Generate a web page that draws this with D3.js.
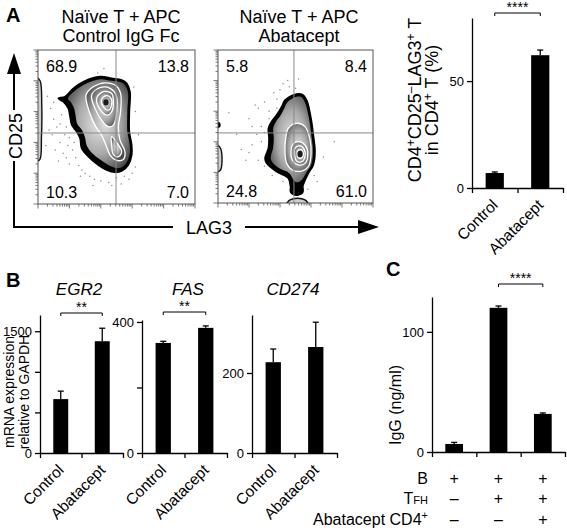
<!DOCTYPE html>
<html><head><meta charset="utf-8">
<script src="https://cdn.jsdelivr.net/npm/d3@7/dist/d3.min.js"></script>
<style>
body{margin:0;background:#fff;}
svg{display:block;}
text{font-family:"Liberation Sans",Arial,Helvetica,sans-serif;fill:#000;}
</style></head><body>
<svg id="chart" width="567" height="530"></svg>
<script>
// ================= DATA =================
// Panel A – flow cytometry (LAG3 vs CD25), coordinates in % of axis range
const flowTitle1 = ["Naïve T + APC", "Control IgG Fc"];
const flowTitle2 = ["Naïve T + APC", "Abatacept"];
const flowXLabel = "LAG3";
const flowYLabel = "CD25";
const flow1Quadrants = ["68.9", "13.8", "10.3", "7.0"];   // UL, UR, LL, LR
const flow2Quadrants = ["5.8", "8.4", "24.8", "61.0"];
const flow1Gate = [49.7, 46.1];
const flow2Gate = [49.0, 45.8];

const flow1Outer = [[12.9,68.6],[17.2,69.7],[22.5,75.1],[28.9,79.4],[39.5,82.7],[46.9,81.6],[53.3,80.5],[56.5,78.4],[58.6,72.9],[58.2,59.9],[58.2,47],[59.7,38.3],[59.7,31.8],[57.5,25.3],[53.3,21.4],[49,20.6],[43.7,22.1],[38.4,25.3],[32.1,30.7],[27.8,36.1],[26.8,42.6],[24.6,47],[21.5,51.3],[20.4,56.7],[19.3,62.1],[16.1,66.4]];
const flow1Level1 = [[19,68.5],[23.5,73.5],[29.5,77.6],[39.5,81],[46.9,80],[53,79],[55.5,77],[57.3,72.5],[56.9,59.9],[56.9,47],[58.4,38.3],[58.3,32],[56.2,26.5],[52.5,23.5],[49,23.5],[44.5,25.5],[40,28.5],[34.5,33],[31,38],[30,43],[28,48],[25,52],[24,57],[23,62],[21,66]];
const flow1Contour2 = [[30.6,70.7],[35.2,76.1],[42.7,78.7],[49.7,76.8],[52.6,71.8],[52.6,59.9],[51.2,50.2],[52.2,41.5],[55.4,33.9],[54.3,28.9],[49.7,28.5],[45.9,31.8],[43.3,38.2],[40.5,44.7],[36.3,51.2],[32.7,59.9]];
const flow1Contour3 = [[34.2,70.7],[39.5,75.5],[45.9,75.1],[49.7,70.7],[50.1,59.9],[48,51.2],[44.8,50.2],[40.5,54.5],[36.3,62.1]];
const flow1Contour4 = [[37.4,68.6],[41.6,72.9],[46.9,71.8],[48,65.3],[46.9,59.9],[44.2,57.7],[39.9,61]];
const flow1Contour5 = [[40.5,67.5],[43.3,70.3],[46.5,68.6],[46.9,64.2],[44.8,61],[41.6,63.2]];
const flow1Lobe = [[46.9,43.7],[50.5,39.3],[53.3,33.9],[51.2,30.7],[48,32.2],[46.9,38.2]];
const flow1Core = [43.3, 66];
const flow1Edge = [[-1,82],[1.3,80],[2.4,64],[2.2,43],[1.2,29],[-1,28]];
const flow1Dots = [[8,62],[10,55],[12,50],[9,45],[14,40],[11,35],[16,33],[13,28],[18,30],[20,26],[7,48],[15,58],[17,45],[19,38],[22,35],[24,30],[26,25],[28,22],[30,20],[33,18],[36,16],[40,15],[45,14],[50,17],[55,18],[60,20],[62,24],[38,85],[42,88],[61,76],[62,60],[6,70],[10,66],[5,38],[23,40],[18,50],[47,12],[53,13],[58,16],[20,43],[14,52],[64,45],[35,12],[27,18]];

const flow2Outer = [[43.2,67.3],[48.6,70.6],[54,71.1],[57.2,67.3],[60,55.4],[61.5,44.5],[62.6,33.6],[61.5,24.9],[58.3,19.4],[55,12],[54,8],[51.5,5.5],[48.5,6],[47,9.5],[45.4,16.1],[37.8,20.5],[31.4,25.9],[30.3,29.2],[32.5,35.8],[32.9,42.3],[32.5,48.8],[34.6,53.2],[37.8,57.5],[41.1,63]];
const flow2Level1 = [[44.5,65.5],[48.8,68.8],[53.7,69.3],[56,66],[58.7,55.4],[60.2,44.5],[61.3,33.6],[60.2,25.2],[57,20],[53.5,14.5],[50.5,13.5],[48.5,15.5],[46,19.5],[39,23],[34.5,27.5],[34,30],[35.5,36],[36,42.3],[35.6,48.8],[37.3,53],[40.2,57],[42.8,62]];
const flow2Contour2 = [[45.4,48.8],[50.8,52.1],[56.1,49.9],[59.4,41.2],[60,31.4],[58.3,23.8],[54,20.9],[48,21.6],[44.3,25.9],[43.2,33.6],[43.7,42.3]];
const flow2Contour3 = [[48,37.9],[51.8,40.1],[56.1,37.9],[57.9,31.4],[56.1,25.9],[51.8,24.9],[48,28.1],[47.1,33.6]];
const flow2Contour4 = [[49.7,35.8],[52.9,37.3],[55.7,34.7],[56.1,30.3],[54,27],[50.8,27.5],[49.3,31.4]];
const flow2Contour5 = [[51.4,34],[54,34.7],[55.1,31.4],[53.6,29.2],[51.8,29.9]];
const flow2Core = [52.9, 32];
const flow2Edge = [[-1,38],[1.6,35.8],[2.6,29.2],[1.6,21.6],[-1,20.5]];
const flow2EdgeBlob = [[-1,53],[1.4,52.3],[1.4,49.6],[-1,49]];
const flow2BottomBlob = [[46.6,10.5],[50.8,12.6],[55,10.5],[55,6.5],[50.8,4.6],[46.6,6.5]];
const flow2Dome = [[44.3,-1],[46.5,2],[51.4,3.1],[56.1,2],[58.3,-1]];
const flow2Dots = [[7,59],[24,64],[26,62],[30,66],[33,60],[36,72],[40,74],[42,78],[46,76],[50,75],[52,81],[28,50],[25,45],[22,38],[20,33],[26,28],[30,24],[18,28],[15,35],[30,46],[33,55],[38,68],[42,14],[35,18],[58,9],[62,18],[75,40],[68,30],[20,55],[12,45],[28,40],[22,50],[64,14],[45,80],[38,62]];

// Panel A – bar chart
const barACategories = ["Control", "Abatacept"];
const barAValues = [7.0, 62.1];
const barAErrors = [0.5, 2.4];
const barATicks = [0, 50];
const barATickLabels = [0, 50];
const barAYMax = 79.5;
const barAStars = "****";

// Panel B – mRNA expression
const bCategories = ["Control", "Abatacept"];
const geneNames = ["EGR2", "FAS", "CD274"];
const egr2Values = [664, 1377];
const egr2Errors = [98, 160];
const fasValues = [336, 382];
const fasErrors = [5, 6];
const cd274Values = [227, 265];
const cd274Errors = [33, 62];
const egr2Ticks = [0, 500, 1000, 1500];
const egr2TickLabels = [0, 1500];
const fasTicks = [0, 200, 400];
const fasTickLabels = [0, 400];
const cd274Ticks = [0, 200];
const cd274TickLabels = [0, 200];
const egr2YMax = 1700, fasYMax = 406, cd274YMax = 345;
const bStars = ["**", "**", null];

// Panel C – IgG
const cGroups = ["g1", "g2", "g3"];
const cValues = [6.7, 120, 31.7];
const cErrors = [1.3, 1.5, 0.8];
const cTicks = [0, 100];
const cTickLabels = [0, 100];
const cYMax = 129;
const cStars = "****";
const cRowB = ["+", "+", "+"];
const cRowTFH = ["–", "+", "+"];
const cRowAba = ["–", "–", "+"];

// ================= DRAWING =================
const svg = d3.select("#chart");
const defs = svg.append("defs");
const grad = defs.append("radialGradient").attr("id", "zebra").attr("cx", "50%").attr("cy", "50%").attr("r", "62%");
grad.append("stop").attr("offset", "0%").attr("stop-color", "#e4e4e4");
grad.append("stop").attr("offset", "55%").attr("stop-color", "#a9a9a9");
grad.append("stop").attr("offset", "100%").attr("stop-color", "#484848");

let clipN = 0;
function flowPlot(box, s) {
  const id = "clip" + (clipN++);
  defs.append("clipPath").attr("id", id).append("rect")
    .attr("x", box.l).attr("y", box.t).attr("width", box.r - box.l).attr("height", box.b - box.t);
  const outerG = svg.append("g");
  const g = outerG.append("g").attr("clip-path", `url(#${id})`);
  const x = d3.scaleLinear().domain([0, 100]).range([box.l, box.r]);
  const y = d3.scaleLinear().domain([0, 100]).range([box.b, box.t]);
  const closed = d3.line().x(d => x(d[0])).y(d => y(d[1])).curve(d3.curveCatmullRomClosed.alpha(0.5));
  g.selectAll("circle.dot").data(s.dots).join("circle").attr("class", "dot")
    .attr("cx", d => x(d[0])).attr("cy", d => y(d[1])).attr("r", 0.75).attr("fill", "#8c8c8c");
  s.edges.forEach(e => g.append("path").attr("d", closed(e)).attr("fill", "#cfcfcf").attr("stroke", "#111").attr("stroke-width", 1.4));
  g.append("path").attr("d", closed(s.outer)).attr("fill", "#000").attr("stroke", "#000").attr("stroke-width", 1.6);
  (s.blobs || []).forEach(e => g.append("path").attr("d", closed(e)).attr("fill", "#000"));
  g.append("path").attr("d", closed(s.level1)).attr("fill", "url(#zebra)");
  s.levels.forEach(l => g.append("path").attr("d", closed(l)).attr("fill", "url(#zebra)").attr("stroke", "#fff").attr("stroke-width", 1.3));
  g.append("ellipse").attr("cx", x(s.core[0])).attr("cy", y(s.core[1])).attr("rx", 2.6).attr("ry", 3.2).attr("fill", "#1c1c1c");
  // gates
  g.append("line").attr("x1", x(s.gate[0])).attr("x2", x(s.gate[0])).attr("y1", box.t).attr("y2", box.b).attr("stroke", "#8a8a8a").attr("stroke-width", 1);
  g.append("line").attr("x1", box.l).attr("x2", box.r).attr("y1", y(s.gate[1])).attr("y2", y(s.gate[1])).attr("stroke", "#8a8a8a").attr("stroke-width", 1);
  outerG.append("rect").attr("x", box.l).attr("y", box.t).attr("width", box.r - box.l).attr("height", box.b - box.t)
    .attr("fill", "none").attr("stroke", "#555").attr("stroke-width", 1);
  // log ticks
  const lx = d3.scaleLog().domain([1, 1e5]).range([box.l, box.r]);
  const ly = d3.scaleLog().domain([1, 1e5]).range([box.b, box.t]);
  const isMajor = v => Math.abs(Math.log10(v) - Math.round(Math.log10(v))) < 1e-9;
  outerG.selectAll("line.xt").data(lx.ticks()).join("line").attr("class", "xt")
    .attr("x1", d => lx(d)).attr("x2", d => lx(d)).attr("y1", box.b).attr("y2", d => box.b + (isMajor(d) ? 4.5 : 2.5))
    .attr("stroke", "#555").attr("stroke-width", 0.8);
  outerG.selectAll("line.yt").data(ly.ticks()).join("line").attr("class", "yt")
    .attr("y1", d => ly(d)).attr("y2", d => ly(d)).attr("x1", box.l).attr("x2", d => box.l - (isMajor(d) ? 4.5 : 2.5))
    .attr("stroke", "#555").attr("stroke-width", 0.8);
  // quadrant labels
  const q = s.quads;
  const qs = "16px";
  outerG.append("text").attr("x", box.l + 8).attr("y", box.t + 22).style("font-size", qs).text(q[0]);
  outerG.append("text").attr("x", box.r - 6).attr("y", box.t + 22).attr("text-anchor", "end").style("font-size", qs).text(q[1]);
  outerG.append("text").attr("x", box.l + 8).attr("y", box.b - 6).style("font-size", qs).text(q[2]);
  outerG.append("text").attr("x", box.r - 6).attr("y", box.b - 6).attr("text-anchor", "end").style("font-size", qs).text(q[3]);
  // title
  outerG.append("text").attr("x", s.titleX).attr("y", 23).attr("text-anchor", "middle").style("font-size", "18px").text(s.title[0]);
  outerG.append("text").attr("x", s.titleX).attr("y", 42).attr("text-anchor", "middle").style("font-size", "18px").text(s.title[1]);
}

flowPlot({l: 38, r: 195, t: 50, b: 204}, {
  outer: flow1Outer, level1: flow1Level1,
  levels: [flow1Contour2, flow1Lobe, flow1Contour3, flow1Contour4, flow1Contour5],
  core: flow1Core, edges: [flow1Edge], dots: flow1Dots, gate: flow1Gate,
  quads: flow1Quadrants, title: flowTitle1, titleX: 121
});
flowPlot({l: 218, r: 373, t: 50, b: 203}, {
  outer: flow2Outer, level1: flow2Level1,
  levels: [flow2Contour2, flow2Contour3, flow2Contour4, flow2Contour5],
  core: flow2Core, edges: [flow2Edge, flow2Dome], blobs: [flow2EdgeBlob, flow2BottomBlob], dots: flow2Dots, gate: flow2Gate,
  quads: flow2Quadrants, title: flowTitle2, titleX: 299
});

// big axis arrows
const arr = svg.append("g").attr("stroke", "#000").attr("stroke-width", 2).attr("fill", "none");
arr.append("path").attr("d", "M14,73V110 M14,161V227H173 M245,227H360");
svg.append("path").attr("d", "M14,53L7,74L21,74Z").attr("fill", "#000");
svg.append("path").attr("d", "M379,227L358,220L358,234Z").attr("fill", "#000");
svg.append("text").attr("transform", "translate(22,136) rotate(-90)").attr("text-anchor", "middle").style("font-size", "18px").text(flowYLabel);
svg.append("text").attr("x", 209).attr("y", 234).attr("text-anchor", "middle").style("font-size", "18px").text(flowXLabel);

// panel letters
svg.append("text").attr("x", 6).attr("y", 22).style("font-size", "20px").style("font-weight", "bold").text("A");
svg.append("text").attr("x", 6).attr("y", 287).style("font-size", "20px").style("font-weight", "bold").text("B");
svg.append("text").attr("x", 386).attr("y", 276).style("font-size", "20px").style("font-weight", "bold").text("C");

function barPanel(o) {
  const g = svg.append("g");
  const x = d3.scaleBand().domain(o.cats).range([o.x0, o.x1]);
  const y = d3.scaleLinear().domain([0, o.yMax]).range([o.y0, o.yTop]);
  const bw = x.bandwidth() * o.frac;
  const cx = c => x(c) + x.bandwidth() / 2;
  g.selectAll("rect").data(o.vals).join("rect")
    .attr("x", (d, i) => cx(o.cats[i]) - bw / 2).attr("width", bw)
    .attr("y", d => y(d)).attr("height", d => y(0) - y(d)).attr("fill", "#000");
  o.vals.forEach((v, i) => {
    const c = cx(o.cats[i]);
    g.append("line").attr("x1", c).attr("x2", c).attr("y1", y(v)).attr("y2", y(v + o.errs[i])).attr("stroke", "#000").attr("stroke-width", 1.3);
    g.append("line").attr("x1", c - 3).attr("x2", c + 3).attr("y1", y(v + o.errs[i])).attr("y2", y(v + o.errs[i])).attr("stroke", "#000").attr("stroke-width", 1.3);
  });
  const ya = d3.axisLeft(y).tickValues(o.ticks).tickFormat(d => o.labels.includes(d) ? d : "").tickSize(5).tickSizeOuter(0).tickPadding(3);
  g.append("g").attr("transform", `translate(${o.x0},0)`).call(ya).call(s => {
    s.select(".domain").attr("stroke-width", 1.3);
    s.selectAll(".tick line").attr("stroke-width", 1.3);
    s.selectAll(".tick text").style("font-size", "13px");
  });
  const xb = d3.scaleLinear().domain([0, o.cats.length]).range([o.x0, o.x1]);
  const xa = d3.axisBottom(xb).tickValues(d3.range(o.cats.length + 1)).tickFormat("").tickSize(5).tickSizeOuter(0);
  g.append("g").attr("transform", `translate(0,${o.y0})`).call(xa).call(s => {
    s.select(".domain").attr("stroke-width", 1.3);
    s.selectAll(".tick line").attr("stroke-width", 1.3);
  });
  if (o.catLabels) {
    o.cats.forEach(c => {
      g.append("text").attr("transform", `translate(${cx(c) + 4},${o.y0 + 18}) rotate(-45)`)
        .attr("text-anchor", "end").style("font-size", "15.5px").text(c);
    });
  }
  if (o.stars) {
    const a = cx(o.cats[o.pair[0]]), b = cx(o.cats[o.pair[1]]);
    g.append("path").attr("d", `M${a},${o.by + 3}V${o.by}H${b}V${o.by + 3}`).attr("fill", "none").attr("stroke", "#000").attr("stroke-width", 1);
    g.append("text").attr("x", (a + b) / 2).attr("y", o.by - 1).attr("text-anchor", "middle").style("font-size", "14px").text(o.stars);
  }
  return {x, y, cx};
}

// Panel A bar chart
barPanel({x0: 472, x1: 563, y0: 188, yTop: 18, yMax: barAYMax, cats: barACategories, vals: barAValues, errs: barAErrors,
  ticks: barATicks, labels: barATickLabels, frac: 0.4, catLabels: true, stars: barAStars, pair: [0, 1], by: 13});
{
  const t = svg.append("text").attr("transform", "translate(421,100) rotate(-90)").attr("text-anchor", "middle").style("font-size", "18px");
  t.append("tspan").text("CD4");
  t.append("tspan").attr("dy", -6).style("font-size", "12px").text("+");
  t.append("tspan").attr("dy", 6).text("CD25");
  t.append("tspan").attr("dy", -6).style("font-size", "12px").text("–");
  t.append("tspan").attr("dy", 6).text("LAG3");
  t.append("tspan").attr("dy", -6).style("font-size", "12px").text("+");
  t.append("tspan").attr("dy", 6).text(" T");
  const t2 = svg.append("text").attr("transform", "translate(438,100) rotate(-90)").attr("text-anchor", "middle").style("font-size", "18px");
  t2.append("tspan").text("in CD4");
  t2.append("tspan").attr("dy", -6).style("font-size", "12px").text("+");
  t2.append("tspan").attr("dy", 6).text(" T (%)");
}

// Panel B
const bSpecs = [
  {x0: 40, x1: 123, yTop: 315, yMax: egr2YMax, vals: egr2Values, errs: egr2Errors, ticks: egr2Ticks, labels: egr2TickLabels, by: 313, titleX: 79},
  {x0: 142, x1: 227, yTop: 320, yMax: fasYMax, vals: fasValues, errs: fasErrors, ticks: fasTicks, labels: fasTickLabels, by: 312, titleX: 188},
  {x0: 252, x1: 337, yTop: 315, yMax: cd274YMax, vals: cd274Values, errs: cd274Errors, ticks: cd274Ticks, labels: cd274TickLabels, by: 0, titleX: 293}
];
bSpecs.forEach((s, i) => {
  barPanel(Object.assign({y0: 453, cats: bCategories, frac: 0.36, catLabels: true, stars: bStars[i], pair: [0, 1]}, s));
  svg.append("text").attr("x", s.titleX).attr("y", 295).attr("text-anchor", "middle").style("font-size", "17px").style("font-style", "italic").text(geneNames[i]);
});
svg.append("text").attr("transform", "translate(14,392) rotate(-90)").attr("text-anchor", "middle").style("font-size", "14px").text("mRNA expression");
svg.append("text").attr("transform", "translate(29,392) rotate(-90)").attr("text-anchor", "middle").style("font-size", "14px").text("relative to GAPDH");

// Panel C
const pc = barPanel({x0: 432, x1: 565, y0: 452, yTop: 297, yMax: cYMax, cats: cGroups, vals: cValues, errs: cErrors,
  ticks: cTicks, labels: cTickLabels, frac: 0.4, catLabels: false, stars: cStars, pair: [1, 2], by: 284});
svg.append("text").attr("transform", "translate(401,405) rotate(-90)").attr("text-anchor", "middle").style("font-size", "16px").text("IgG (ng/ml)");
const rowY = [484, 504, 525];
svg.append("text").attr("x", 428).attr("y", rowY[0]).attr("text-anchor", "end").style("font-size", "16px").text("B");
{
  const t = svg.append("text").attr("x", 428).attr("y", rowY[1]).attr("text-anchor", "end").style("font-size", "16px");
  t.append("tspan").text("T");
  t.append("tspan").style("font-size", "11px").text("FH");
  const t2 = svg.append("text").attr("x", 428).attr("y", rowY[2]).attr("text-anchor", "end").style("font-size", "16px");
  t2.append("tspan").text("Abatacept CD4");
  t2.append("tspan").attr("dy", -6).style("font-size", "11px").text("+");
}
[cRowB, cRowTFH, cRowAba].forEach((row, r) => {
  svg.selectAll(null).data(row).join("text")
    .attr("x", (d, i) => pc.cx(cGroups[i])).attr("y", rowY[r]).attr("text-anchor", "middle")
    .style("font-size", "16px").text(d => d);
});
</script>
</body></html>
